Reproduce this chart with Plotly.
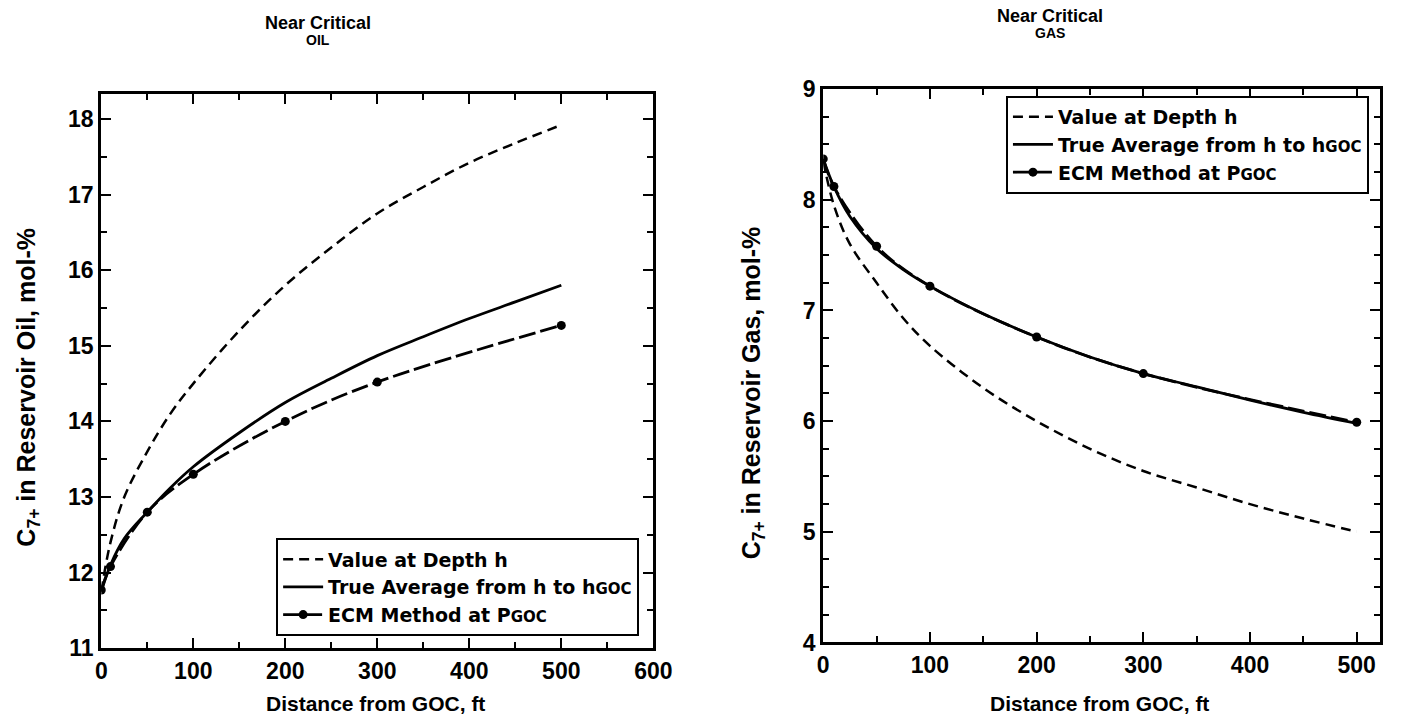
import plotly.graph_objects as go

# ---------------- data ----------------
oil_x_curve = [0, 10, 25, 50, 75, 100, 150, 200, 250, 300, 350, 400, 450, 500]
oil_depth = [11.75, 12.4, 13.0, 13.6, 14.1, 14.5, 15.2, 15.8, 16.3, 16.75, 17.1, 17.42, 17.68, 17.92]
oil_true_avg = [11.75, 12.1, 12.45, 12.8, 13.12, 13.4, 13.85, 14.25, 14.57, 14.87, 15.12, 15.36, 15.58, 15.8]
oil_ecm_x = [0, 10, 50, 100, 200, 300, 500]
oil_ecm = [11.77, 12.08, 12.8, 13.3, 14.0, 14.52, 15.27]

gas_x_curve = [0, 10, 25, 50, 75, 100, 150, 200, 250, 300, 350, 400, 450, 500]
gas_depth = [8.35, 7.95, 7.6, 7.25, 6.93, 6.68, 6.3, 6.0, 5.75, 5.55, 5.4, 5.25, 5.12, 5.0]
gas_true_avg = [8.37, 8.12, 7.85, 7.56, 7.37, 7.22, 6.97, 6.76, 6.58, 6.43, 6.31, 6.19, 6.08, 5.98]
gas_ecm_x = [0, 10, 50, 100, 200, 300, 500]
gas_ecm = [8.37, 8.12, 7.58, 7.22, 6.76, 6.43, 5.99]

names = ["Value at Depth h",
         "True Average from h to h<span style='font-size:15px'>GOC</span>",
         "ECM Method at P<span style='font-size:15px'>GOC</span>"]

FONT = "Liberation Sans"
LEGFONT = "DejaVu Sans"
W, H = 1410, 722

def px(x):
    return x / W

def py(y):
    return 1 - y / H

fig = go.Figure()

def add_set(xc, dep, avg, xe, ecm, xa, ya, leg):
    fig.add_trace(go.Scatter(x=xc, y=dep, mode="lines", name=names[0], xaxis=xa, yaxis=ya,
                             line=dict(color="black", width=2.5, dash="10px,6px", shape="spline"),
                             legend=leg))
    fig.add_trace(go.Scatter(x=xc, y=avg, mode="lines", name=names[1], xaxis=xa, yaxis=ya,
                             line=dict(color="black", width=2.8, shape="spline"), legend=leg))
    fig.add_trace(go.Scatter(x=xe, y=ecm, mode="lines+markers", name=names[2], xaxis=xa, yaxis=ya,
                             line=dict(color="black", width=2.8, dash="17px,5px", shape="spline"),
                             marker=dict(color="black", size=9, symbol="circle"), legend=leg))

add_set(oil_x_curve, oil_depth, oil_true_avg, oil_ecm_x, oil_ecm, "x", "y", "legend")
add_set(gas_x_curve, gas_depth, gas_true_avg, gas_ecm_x, gas_ecm, "x2", "y2", "legend2")

tickfont = dict(family=FONT, size=23, color="black", weight="bold")

def axis_common():
    return dict(showgrid=False, zeroline=False, showline=True, linecolor="black", linewidth=3,
                mirror="allticks", ticks="inside", ticklen=10, tickwidth=2, tickcolor="black",
                tickfont=tickfont)

minor_style = dict(ticks="inside", ticklen=6, tickwidth=2, tickcolor="black")
xa1 = axis_common(); xa1.update(domain=[px(97), px(659)], range=[0, 600], dtick=100, anchor="y",
                                minor=dict(dtick=50, **minor_style))
ya1 = axis_common(); ya1.update(domain=[py(659), py(84)], range=[11, 18.33], dtick=1, anchor="x",
                                minor=dict(dtick=0.5, **minor_style))
xa2 = axis_common(); xa2.update(domain=[px(832), px(1399)], range=[0, 522], dtick=100, anchor="y2",
                                minor=dict(dtick=50, **minor_style))
ya2 = axis_common(); ya2.update(domain=[py(653), py(79)], range=[4, 9], dtick=1, anchor="x2",
                                minor=dict(dtick=0.25, **minor_style))

legfont = dict(family=LEGFONT, size=19, color="black", weight="bold")
fig.update_layout(
    width=W, height=H, margin=dict(l=0, r=0, t=0, b=0),
    paper_bgcolor="white", plot_bgcolor="white",
    xaxis=xa1, yaxis=ya1, xaxis2=xa2, yaxis2=ya2,
    legend=dict(x=px(275), y=py(545), xanchor="left", yanchor="top", bordercolor="black",
                borderwidth=2, bgcolor="white", font=legfont, tracegroupgap=0, itemwidth=40),
    legend2=dict(x=px(1018), y=py(86), xanchor="left", yanchor="top", bordercolor="black",
                 borderwidth=2, bgcolor="white", font=legfont, tracegroupgap=0, itemwidth=40),
    showlegend=True,
)

ann_font = dict(family=FONT, color="black", weight="bold")
anns = [
    dict(text="Near Critical", x=px(318), y=py(10), size=18),
    dict(text="OIL", x=px(318), y=py(28), size=14),
    dict(text="Near Critical", x=px(1063), y=py(3), size=18),
    dict(text="GAS", x=px(1063), y=py(21), size=14),
    dict(text="Distance from GOC, ft", x=px(376), y=py(716), size=21),
    dict(text="Distance from GOC, ft", x=px(1113), y=py(716), size=21),
]
for a in anns:
    fig.add_annotation(text=a["text"], x=a["x"], y=a["y"], xref="paper", yref="paper",
                       showarrow=False, xanchor="center", yanchor="middle",
                       font=dict(size=a["size"], **ann_font))
fig.add_annotation(text="C<sub>7+</sub> in Reservoir Oil, mol-%", x=px(22), y=py(388), xref="paper",
                   yref="paper", showarrow=False, textangle=-90, xanchor="center", yanchor="middle",
                   font=dict(size=25, **ann_font))
fig.add_annotation(text="C<sub>7+</sub> in Reservoir Gas, mol-%", x=px(760), y=py(394), xref="paper",
                   yref="paper", showarrow=False, textangle=-90, xanchor="center", yanchor="middle",
                   font=dict(size=25, **ann_font))

fig.write_html("out.html")
